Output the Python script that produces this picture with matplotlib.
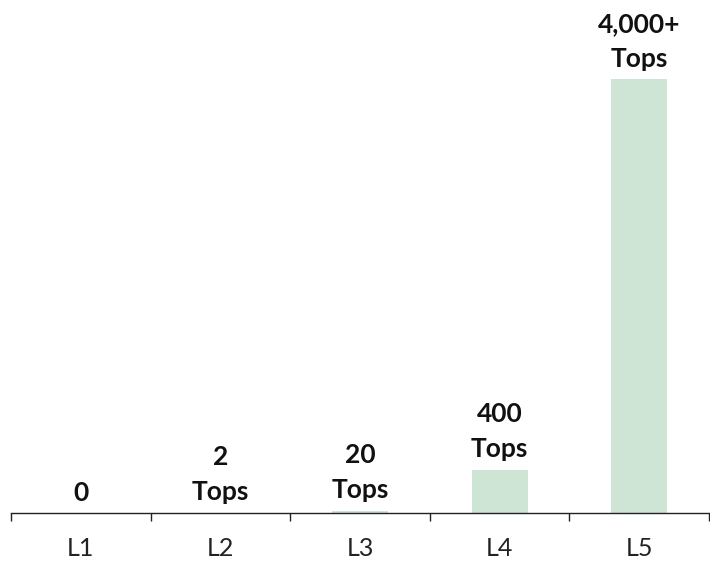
import matplotlib
matplotlib.use("Agg")
import matplotlib.pyplot as plt

categories = ["L1", "L2", "L3", "L4", "L5"]
values = [0, 2, 20, 400, 4000]
labels = ["0", "2\nTops", "20\nTops", "400\nTops", "4,000+\nTops"]

plt.rcParams['font.family'] = ['Lato', 'DejaVu Sans']

fig = plt.figure(figsize=(7.10, 5.62), dpi=100)
ax = fig.add_axes([11/710, 1 - 513/562, 698/710, 513/562])

x = list(range(len(categories)))
bars = ax.bar(x, values, width=0.4, color="#cee5d5", edgecolor="none")
ax.set_xlim(-0.5, len(categories) - 0.5)
ax.set_ylim(0, 4000 * 513 / 434)

for xi, v, lab in zip(x, values, labels):
    ax.annotate(lab, (xi, v), xytext=(0, 6), textcoords="offset points",
                ha="center", va="bottom", fontsize=19, fontweight="bold",
                color="#111111", linespacing=1.55)

for s in ["top", "right", "left"]:
    ax.spines[s].set_visible(False)
ax.spines["bottom"].set_linewidth(1.0)
ax.spines["bottom"].set_color("#222222")
ax.set_yticks([])

ax.set_xticks(x)
ax.set_xticklabels(categories, fontsize=18, color="#222222")
ax.tick_params(axis="x", which="major", length=0, pad=17)
ax.set_xticks([i - 0.5 for i in range(len(categories) + 1)], minor=True)
ax.tick_params(axis="x", which="minor", length=6, width=1.0, color="#222222", direction="out")

fig.savefig("out.png", dpi=100)
